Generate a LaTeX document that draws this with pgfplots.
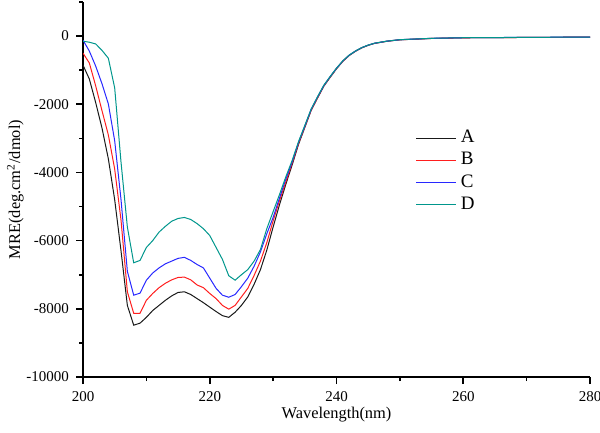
\documentclass[border=0pt]{standalone}
\usepackage{fontspec}
\setmainfont{Liberation Serif}
\usepackage{pgfplots}
\pgfplotsset{compat=1.18}
\definecolor{lineA}{RGB}{25,25,25}
\definecolor{lineB}{RGB}{255,30,30}
\definecolor{lineC}{RGB}{40,40,255}
\definecolor{lineD}{RGB}{0,150,140}
\begin{document}
\begin{tikzpicture}
\begin{axis}[name=ax, scale only axis, width=253.5pt, height=187.5pt,
 xmin=200,xmax=280,ymin=-10000,ymax=1000,
 axis lines*=left, axis line style={line width=1pt},
 xtick={200,220,...,280}, minor xtick={210,230,...,270},
 ytick={-10000,-8000,...,0}, minor ytick={-9000,-7000,...,1000},
 scaled y ticks=false,
 tick align=outside, major tick length=3.5pt, minor tick length=2pt,
 tick style={line width=0.8pt, black},
 /pgf/number format/assume math mode=true,
 /pgf/number format/1000 sep={},
 ticklabel style={font=\fontsize{7.5}{9}\selectfont},
 xlabel={Wavelength(nm)}, ylabel={MRE(deg.cm\textsuperscript{2}/dmol)},
 label style={font=\fontsize{8.2}{10}\selectfont},
 xlabel style={yshift=4pt},
 ylabel style={yshift=-5.5pt},
 legend style={draw=none, fill=none, at={(axis cs:251.5,-2520)}, anchor=north west, font=\fontsize{9.5}{11}\selectfont, row sep=-0.7pt},
 legend cell align=left,
 legend image code/.code={\draw[#1, line width=0.6pt] (0pt,0pt) -- (20pt,0pt);},
 every axis plot/.append style={line width=0.5pt},
]
\addplot[color=lineA] coordinates {(200,-850) (201,-1260) (202,-1950) (203,-2700) (204,-3600) (205,-4800) (206,-6300) (207,-7900) (208,-8480) (209,-8420) (210,-8250) (211,-8050) (212,-7900) (213,-7750) (214,-7620) (215,-7520) (216,-7500) (217,-7580) (218,-7700) (219,-7820) (220,-7950) (221,-8080) (222,-8200) (223,-8250) (224,-8100) (225,-7900) (226,-7650) (227,-7280) (228,-6850) (229,-6280) (230,-5600) (231,-4950) (232,-4350) (233,-3780) (234,-3180) (235,-2680) (236,-2180) (237,-1820) (238,-1470) (239,-1210) (240,-960) (241,-740) (242,-570) (243,-445) (244,-345) (245,-270) (246,-215) (248,-150) (250,-110) (255,-70) (260,-50) (270,-40) (280,-30)};
\addlegendentry{A}
\addplot[color=lineB] coordinates {(200,-500) (201,-790) (202,-1460) (203,-2190) (204,-2900) (205,-3900) (206,-5400) (207,-7500) (208,-8130) (209,-8130) (210,-7750) (211,-7550) (212,-7380) (213,-7250) (214,-7150) (215,-7080) (216,-7070) (217,-7150) (218,-7300) (219,-7380) (220,-7550) (221,-7700) (222,-7900) (223,-8010) (224,-7900) (225,-7650) (226,-7400) (227,-7020) (228,-6600) (229,-6060) (230,-5420) (231,-4830) (232,-4280) (233,-3730) (234,-3150) (235,-2660) (236,-2170) (237,-1810) (238,-1460) (239,-1200) (240,-950) (241,-735) (242,-565) (243,-440) (244,-340) (245,-268) (246,-212) (248,-150) (250,-108) (255,-68) (260,-50) (270,-40) (280,-30)};
\addlegendentry{B}
\addplot[color=lineC] coordinates {(200,-120) (201,-440) (202,-880) (203,-1400) (204,-1990) (205,-3070) (206,-4800) (207,-6900) (208,-7600) (209,-7540) (210,-7160) (211,-6950) (212,-6800) (213,-6680) (214,-6600) (215,-6520) (216,-6490) (217,-6580) (218,-6700) (219,-6800) (220,-7100) (221,-7400) (222,-7600) (223,-7660) (224,-7580) (225,-7350) (226,-7100) (227,-6750) (228,-6330) (229,-5800) (230,-5320) (231,-4750) (232,-4200) (233,-3690) (234,-3120) (235,-2640) (236,-2150) (237,-1790) (238,-1450) (239,-1190) (240,-945) (241,-730) (242,-560) (243,-438) (244,-338) (245,-265) (246,-210) (248,-148) (250,-106) (255,-66) (260,-48) (270,-38) (280,-28)};
\addlegendentry{C}
\addplot[color=lineD] coordinates {(200,-150) (201,-180) (202,-230) (203,-420) (204,-650) (205,-1520) (206,-3700) (207,-5600) (208,-6650) (209,-6580) (210,-6200) (211,-6000) (212,-5750) (213,-5580) (214,-5430) (215,-5350) (216,-5320) (217,-5380) (218,-5500) (219,-5650) (220,-5850) (221,-6200) (222,-6550) (223,-7030) (224,-7160) (225,-7000) (226,-6850) (227,-6600) (228,-6260) (229,-5650) (230,-5150) (231,-4650) (232,-4130) (233,-3650) (234,-3100) (235,-2620) (236,-2140) (237,-1780) (238,-1440) (239,-1185) (240,-940) (241,-725) (242,-558) (243,-436) (244,-336) (245,-264) (246,-209) (248,-147) (250,-105) (255,-65) (260,-48) (270,-38) (280,-28)};
\addlegendentry{D}
\end{axis}
\pgfresetboundingbox
\path[use as bounding box] ([xshift=-41.5pt,yshift=-27.5pt]ax.south west) rectangle ([xshift=5pt,yshift=1pt]ax.north east);
\end{tikzpicture}
\end{document}
